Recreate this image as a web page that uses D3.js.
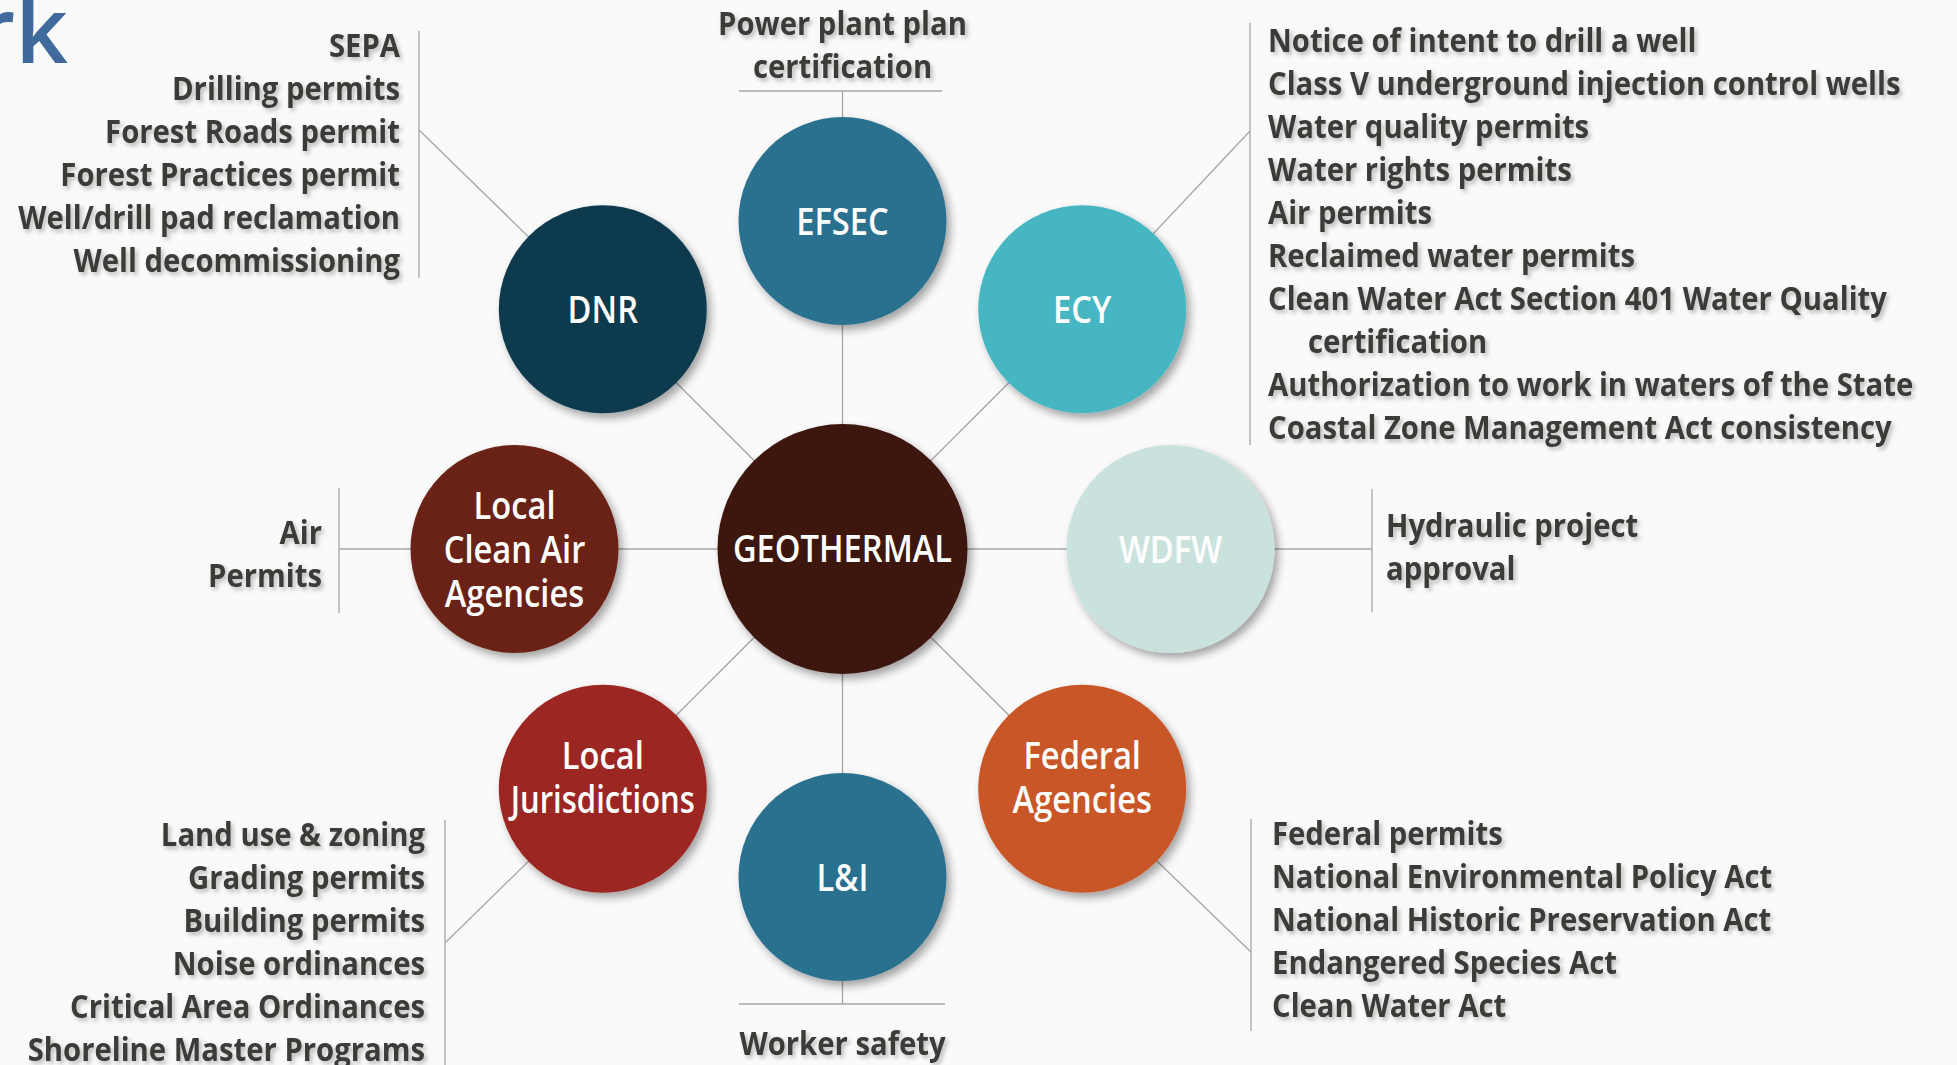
<!DOCTYPE html>
<html>
<head>
<meta charset="utf-8">
<script src="https://cdn.jsdelivr.net/npm/d3@7"></script>
<style>
  html, body { margin: 0; padding: 0; background: #fafafa; overflow: hidden; }
  text { font-family: "Open Sans", "Noto Sans", sans-serif; font-weight: 600; }
</style>
</head>
<body>
<div id="chart"></div>
<script>
// frame size
const FRAME_WIDTH = 1957;
const FRAME_HEIGHT = 1065;

// hub and agencies, clockwise starting at the top
const HUB = "GEOTHERMAL";
const AGENCIES = ["EFSEC", "ECY", "WDFW", "Federal Agencies", "L&I",
                  "Local Jurisdictions", "Local Clean Air Agencies", "DNR"];
const AGENCY_LINES = [["EFSEC"], ["ECY"], ["WDFW"], ["Federal", "Agencies"], ["L&I"],
                      ["Local", "Jurisdictions"], ["Local", "Clean Air", "Agencies"], ["DNR"]];

// permits handled by each agency ("\n" = wrapped line)
const EFSEC_PERMITS = ["Power plant plan", "certification"];
const ECY_PERMITS = ["Notice of intent to drill a well",
                     "Class V underground injection control wells",
                     "Water quality permits",
                     "Water rights permits",
                     "Air permits",
                     "Reclaimed water permits",
                     "Clean Water Act Section 401 Water Quality\ncertification",
                     "Authorization to work in waters of the State",
                     "Coastal Zone Management Act consistency"];
const WDFW_PERMITS = ["Hydraulic project", "approval"];
const FEDERAL_PERMITS = ["Federal permits",
                         "National Environmental Policy Act",
                         "National Historic Preservation Act",
                         "Endangered Species Act",
                         "Clean Water Act"];
const LNI_PERMITS = ["Worker safety"];
const LOCAL_JURIS_PERMITS = ["Land use & zoning", "Grading permits", "Building permits",
                             "Noise ordinances", "Critical Area Ordinances",
                             "Shoreline Master Programs"];
const CLEAN_AIR_PERMITS = ["Air", "Permits"];
const DNR_PERMITS = ["SEPA", "Drilling permits", "Forest Roads permit",
                     "Forest Practices permit", "Well/drill pad reclamation",
                     "Well decommissioning"];

const PERMITS = {
  "EFSEC": EFSEC_PERMITS, "ECY": ECY_PERMITS, "WDFW": WDFW_PERMITS,
  "Federal Agencies": FEDERAL_PERMITS, "L&I": LNI_PERMITS,
  "Local Jurisdictions": LOCAL_JURIS_PERMITS, "Local Clean Air Agencies": CLEAN_AIR_PERMITS,
  "DNR": DNR_PERMITS
};

// styles
const HUB_COLOR = "#3c1510";
const AGENCY_COLORS = ["#2a6f8f", "#45b6c2", "#cae2dd", "#c95628", "#2a6f8f",
                       "#9c2523", "#6a2112", "#0b3a4e"];
const LINE_COLOR = "#a6a6a6";
const TEXT_COLOR = "#3a3a37";
const LIST_SIZE = 32, LIST_SQUEEZE = 0.915, LIST_PITCH = 43, LIST_WEIGHT = 700;
const BUBBLE_SIZE = 38, BUBBLE_SQUEEZE = 0.86, BUBBLE_PITCH = 44, BUBBLE_WEIGHT = 600;

// layout
const HUB_X = 842.5, HUB_Y = 549;
const HUB_R = 125, AGENCY_R = 104;

// where each permit list hangs
const BRACKETS = {
  "EFSEC":                    {side: "top",    y: 91,   x0: 739, x1: 942, base: 35},
  "ECY":                      {side: "right",  x: 1250, y0: 23,  y1: 445, at: 131, tx: 1268, base: 52},
  "WDFW":                     {side: "right",  x: 1372, y0: 489, y1: 612, at: 549, tx: 1386, base: 537},
  "Federal Agencies":         {side: "right",  x: 1251, y0: 819, y1: 1031, at: 952, tx: 1272, base: 845},
  "L&I":                      {side: "bottom", y: 1004, x0: 739, x1: 945, base: 1055},
  "Local Jurisdictions":      {side: "left",   x: 445,  y0: 820, y1: 1075, at: 943, tx: 425, base: 846},
  "Local Clean Air Agencies": {side: "left",   x: 339,  y0: 488, y1: 613, at: 549, tx: 322, base: 544},
  "DNR":                      {side: "left",   x: 419,  y0: 31,  y1: 278, at: 130, tx: 400, base: 57}
};

// scales
const color = d3.scaleOrdinal(AGENCIES, AGENCY_COLORS);
const angle = d3.scaleLinear().domain([0, AGENCIES.length]).range([0, 2 * Math.PI]);
// diagonal bubbles sit a little further out than the straight ones
const ring = (i) => (i % 2 ? 339 : 328);

const nodes = AGENCIES.map((name, i) => ({
  name: name,
  lines: AGENCY_LINES[i],
  x: HUB_X + ring(i) * Math.sin(angle(i)),
  y: HUB_Y - ring(i) * Math.cos(angle(i)),
  b: BRACKETS[name],
  permits: PERMITS[name]
}));

const FRAME = d3.select("#chart")
  .append("svg")
    .attr("width", FRAME_WIDTH)
    .attr("height", FRAME_HEIGHT);

FRAME.append("rect")
  .attr("width", FRAME_WIDTH).attr("height", FRAME_HEIGHT)
  .attr("fill", "#fafafa");

// shadows
const defs = FRAME.append("defs");
defs.append("filter").attr("id", "bubble-shadow")
    .attr("x", "-30%").attr("y", "-30%").attr("width", "160%").attr("height", "160%")
  .append("feDropShadow")
    .attr("dx", 4).attr("dy", 5).attr("stdDeviation", 4)
    .attr("flood-color", "#000").attr("flood-opacity", 0.35);
defs.append("filter").attr("id", "text-shadow")
    .attr("x", "-10%").attr("y", "-40%").attr("width", "120%").attr("height", "180%")
  .append("feDropShadow")
    .attr("dx", 2.5).attr("dy", 3).attr("stdDeviation", 2)
    .attr("flood-color", "#000").attr("flood-opacity", 0.25);

// partial logo text in the corner
FRAME.append("text")
  .attr("x", 68).attr("y", 63)
  .attr("text-anchor", "end")
  .attr("font-size", 92)
  .style("font-weight", 600)
  .attr("fill", "#3f6a9b")
  .text("rk");

const lines = FRAME.append("g")
  .attr("stroke", LINE_COLOR)
  .attr("stroke-width", 1.3)
  .attr("fill", "none");

// spokes from the hub
lines.selectAll(".spoke")
  .data(nodes)
  .enter().append("line")
    .attr("x1", HUB_X).attr("y1", HUB_Y)
    .attr("x2", (d) => d.x).attr("y2", (d) => d.y);

// connectors and brackets
nodes.forEach((d) => {
  const b = d.b;
  if (b.side == "left" || b.side == "right") {
    lines.append("line").attr("x1", d.x).attr("y1", d.y).attr("x2", b.x).attr("y2", b.at);
    lines.append("line").attr("x1", b.x).attr("y1", b.y0).attr("x2", b.x).attr("y2", b.y1);
  } else {
    lines.append("line").attr("x1", d.x).attr("y1", d.y).attr("x2", d.x).attr("y2", b.y);
    lines.append("line").attr("x1", b.x0).attr("y1", b.y).attr("x2", b.x1).attr("y2", b.y);
  }
});

// bubbles
FRAME.append("circle")
  .attr("cx", HUB_X).attr("cy", HUB_Y).attr("r", HUB_R)
  .attr("fill", HUB_COLOR)
  .attr("filter", "url(#bubble-shadow)");

FRAME.selectAll(".bubble")
  .data(nodes)
  .enter().append("circle")
    .attr("class", "bubble")
    .attr("cx", (d) => d.x).attr("cy", (d) => d.y).attr("r", AGENCY_R)
    .attr("fill", (d) => color(d.name))
    .attr("filter", "url(#bubble-shadow)");

// squeezed text helper (the original face is a condensed sans)
function label(g, x, y, str, anchor, size, squeeze, weight) {
  return g.append("text")
    .attr("transform", "translate(" + x + "," + y + ") scale(" + squeeze + ",1)")
    .attr("text-anchor", anchor)
    .attr("font-size", size)
    .style("font-weight", weight)
    .text(str);
}

// bubble labels
const bubbleText = FRAME.append("g").attr("fill", "#fff");
label(bubbleText, HUB_X, HUB_Y + 13, HUB, "middle", BUBBLE_SIZE, BUBBLE_SQUEEZE, BUBBLE_WEIGHT);
nodes.forEach((d) => {
  const n = d.lines.length;
  const off = n == 2 ? 2 : 14;
  // the longer word is a bit tighter so it stays inside the bubble
  d.lines.forEach((t, i) => {
    const sq = t.length > 10 ? BUBBLE_SQUEEZE * 0.95 : BUBBLE_SQUEEZE;
    label(bubbleText, d.x, d.y + off + (i - (n - 1) / 2) * BUBBLE_PITCH, t,
          "middle", BUBBLE_SIZE, sq, BUBBLE_WEIGHT);
  });
});

// permit lists
const listText = FRAME.append("g")
  .attr("fill", TEXT_COLOR)
  .attr("filter", "url(#text-shadow)");

nodes.forEach((d) => {
  const b = d.b;
  let row = 0;
  d.permits.forEach((item) => {
    item.split("\n").forEach((t, k) => {
      const y = b.base + row * LIST_PITCH;
      if (b.side == "right") {
        label(listText, b.tx + (k > 0 ? 40 : 0), y, t, "start", LIST_SIZE, LIST_SQUEEZE, LIST_WEIGHT);
      } else if (b.side == "left") {
        label(listText, b.tx, y, t, "end", LIST_SIZE, LIST_SQUEEZE, LIST_WEIGHT);
      } else {
        label(listText, d.x, y, t, "middle", LIST_SIZE, LIST_SQUEEZE, LIST_WEIGHT);
      }
      row++;
    });
  });
});
</script>
</body>
</html>
